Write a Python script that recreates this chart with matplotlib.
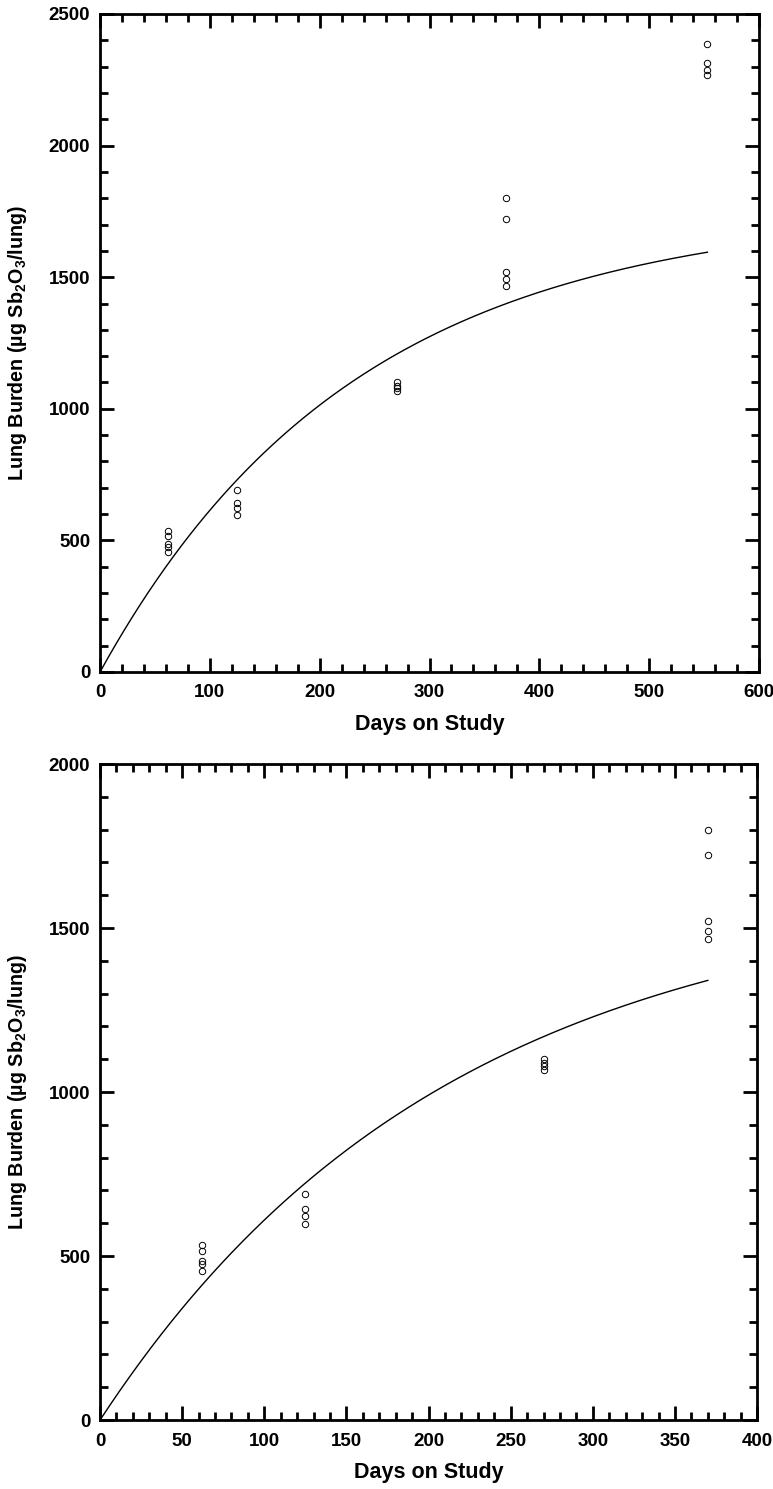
import numpy as np
import matplotlib
matplotlib.use('Agg')
import matplotlib.pyplot as plt
from matplotlib.ticker import MultipleLocator

plt.rcParams['font.family'] = ['Liberation Sans', 'DejaVu Sans']
plt.rcParams['font.weight'] = 'bold'
plt.rcParams['mathtext.fontset'] = 'custom'
plt.rcParams['mathtext.rm'] = 'Liberation Sans:bold'
plt.rcParams['mathtext.bf'] = 'Liberation Sans:bold'
plt.rcParams['mathtext.default'] = 'bf'

# ---------------- data ---------------- #
# observed lung burdens (ug Sb2O3 / lung) per sacrifice day
days_all = [62, 62, 62, 62, 62,
            125, 125, 125, 125,
            270, 270, 270, 270,
            370, 370, 370, 370, 370,
            553, 553, 553, 553]
burden_all = [535, 515, 485, 475, 455,
              690, 642, 622, 597,
              1100, 1088, 1078, 1068,
              1800, 1722, 1520, 1492, 1466,
              2385, 2312, 2287, 2268]

# fitted one-compartment model  B(t) = A * (1 - exp(-k t))
fit_top = {'A': 1758, 'k': 0.0043, 't_end': 553}
fit_bottom = {'A': 1626, 'k': 0.0047, 't_end': 370}

panels = [
    {'fit': fit_top, 'max_day': 553, 'xlim': 600, 'ylim': 2500,
     'xmajor': 100, 'xminor': 20, 'rect': [0.1294, 0.5487, 0.8525, 0.4419]},
    {'fit': fit_bottom, 'max_day': 370, 'xlim': 400, 'ylim': 2000,
     'xmajor': 50, 'xminor': 10, 'rect': [0.1294, 0.0463, 0.8500, 0.4406]},
]

fig = plt.figure(figsize=(7.73, 14.89), dpi=100)

for p in panels:
    ax = fig.add_axes(p['rect'])
    d = np.array(days_all)
    b = np.array(burden_all)
    keep = d <= p['max_day']
    ax.plot(d[keep], b[keep], 'o', mfc='none', mec='black', ms=4.6, mew=0.7)

    f = p['fit']
    t = np.linspace(0, f['t_end'], 300)
    ax.plot(t, f['A'] * (1 - np.exp(-f['k'] * t)), color='black', lw=1.0)

    ax.set_xlim(0, p['xlim'])
    ax.set_ylim(0, p['ylim'])
    ax.xaxis.set_major_locator(MultipleLocator(p['xmajor']))
    ax.xaxis.set_minor_locator(MultipleLocator(p['xminor']))
    ax.yaxis.set_major_locator(MultipleLocator(500))
    ax.yaxis.set_minor_locator(MultipleLocator(100))
    ax.tick_params(which='both', direction='in', top=True, right=True, width=2,
                   labelsize=13.5)
    ax.tick_params(which='major', length=10)
    ax.tick_params(which='minor', length=6)
    ax.tick_params(axis='x', pad=9)
    ax.tick_params(axis='y', pad=7)
    for s in ax.spines.values():
        s.set_linewidth(2)
    ax.set_xlabel('Days on Study', fontsize=15.5, fontweight='bold', labelpad=9)
    ax.set_ylabel(r'Lung Burden (µg Sb$_{2}$O$_{3}$/lung)', fontsize=14.2,
                  fontweight='bold', labelpad=14)

fig.savefig('out.png', dpi=100)
